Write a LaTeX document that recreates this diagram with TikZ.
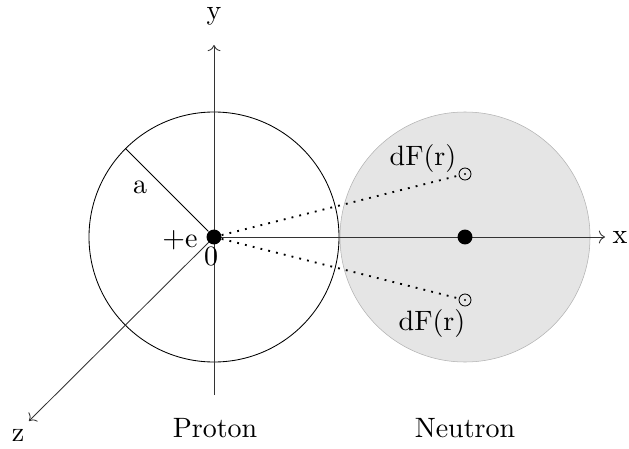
\documentclass[tikz,border=0pt]{standalone}
\usepackage{tikz}
\usetikzlibrary{arrows.meta,positioning}

\begin{document}
\begin{tikzpicture}[x=0.375pt,y=-0.375pt,line width=0.32pt,font=\fontsize{10.5}{12}\selectfont]
    \useasboundingbox (0,0) rectangle (629,448);
    % nucleon spheres
    \node[draw=black!30, fill=black!10, line width=0.2pt, circle, minimum size=93.75pt] (neutron) at (465,237) {};
    \node[draw, circle, minimum size=93.75pt] (proton) at (214,237) {};

    % axes
    \coordinate (xend) at (605,237);
    \coordinate (ytop) at (214,45);
    \coordinate (ybot) at (214,395);
    \coordinate (zend) at (29,421);
    \draw[->, black!80] (proton.center) -- (xend);
    \draw[->, black!80] (ybot) -- (ytop);
    \draw[->, black!80] (proton.center) -- (zend);
    \node (xlab) at (620,237) {x};
    \node[inner sep=1pt] (ylab) at (214,16) {y};
    \node[inner sep=1pt] (zlab) at (18,435) {z};

    % charges and field points
    \node[circle, fill, inner sep=0pt, minimum size=5.6pt] (o) at (214,237) {};
    \node[circle, fill, inner sep=0pt, minimum size=5.6pt] (n) at (465,237) {};
    \node[circle, draw, inner sep=0pt, minimum size=4.5pt] (f1) at (465,174) {};
    \node[circle, draw, inner sep=0pt, minimum size=4.5pt] (f2) at (465,300) {};
    \fill (f1.center) circle (0.4pt);
    \fill (f2.center) circle (0.4pt);
    \draw[line width=0.7pt, dash pattern=on 0.7pt off 2.3pt] (o) -- (f1);
    \draw[line width=0.7pt, dash pattern=on 0.7pt off 2.3pt] (o) -- (f2);
    \draw (o) -- (proton.135);

    % labels
    \node (alab) at (140,187) {a};
    \node (elab) at (180,240) {$+$e};
    \node (zero) at (211,256) {0};
    \node (df1) at (423,158) {dF(r)};
    \node (df2) at (432,323) {dF(r)};
    \node (plab) at (215,428) {Proton};
    \node (nlab) at (465,428) {Neutron};
\end{tikzpicture}
\end{document}
